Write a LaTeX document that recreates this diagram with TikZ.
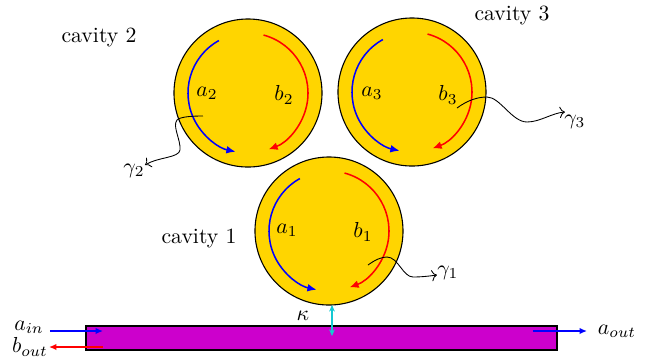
\documentclass[tikz,border=0pt]{standalone}
\usetikzlibrary{arrows.meta,calc}
\definecolor{cavfill}{RGB}{255,213,0}
\definecolor{wgfill}{RGB}{204,0,204}
\definecolor{kcyan}{RGB}{20,200,210}
\begin{document}
\begin{tikzpicture}[x=0.46pt,y=-0.46pt,
  cav/.style={circle,draw=black,fill=cavfill,line width=0.5pt,minimum size=68.1pt,inner sep=0pt},
  modea/.style={blue,line width=0.7pt,-{Latex[length=4.2pt,width=3.6pt]}},
  modeb/.style={red,line width=0.7pt,-{Latex[length=4.2pt,width=3.6pt]}},
  loss/.style={black,line width=0.4pt,->},
  port/.style={line width=0.7pt,-{Latex[length=3.4pt,width=3pt]}},
  lbl/.style={inner sep=1pt}]
\useasboundingbox (0,0) rectangle (657,358);
% waveguide
\node[draw=black,fill=wgfill,line width=0.5pt,minimum width=216.7pt,minimum height=11.04pt,inner sep=0pt] (wg) at (321.5,338) {};
% cavities
\node[cav] (c1) at (329,231) {};
\node[cav] (c2) at (248,93) {};
\node[cav] (c3) at (412,92) {};
% circulating modes
\foreach \c in {c1,c2,c3}{
  \draw[modea] ($(\c)+(241:60)$) arc[start angle=241,end angle=102,radius=60];
  \draw[modeb] ($(\c)+(-75:60)$) arc[start angle=-75,end angle=70,radius=60];
}
% mode labels
\node[lbl] (a1) at (287,230) {$a_1$};
\node[lbl] (b1) at (363,232) {$b_1$};
\node[lbl] (a2) at (207,93) {$a_2$};
\node[lbl] (b2) at (284,95) {$b_2$};
\node[lbl] (a3) at (372,93) {$a_3$};
\node[lbl] (b3) at (448,95) {$b_3$};
% cavity labels
\node[lbl] (k1) at (199,238) {cavity 1};
\node[lbl] (k2) at (99,37) {cavity 2};
\node[lbl] (k3) at (512,15) {cavity 3};
% losses
\coordinate (g1s) at (368,265);
\coordinate (g1e) at (437,275);
\node[lbl] (g1) at (448,273) {$\gamma_1$};
\draw[loss] (g1s) .. controls (375,260) and (381,257) .. (387,257)
  .. controls (398,257) and (403,277) .. (413,277)
  .. controls (422,277) and (430,276) .. (g1e);
\coordinate (g3s) at (457,108);
\coordinate (g3e) at (565,112);
\node[lbl] (g3) at (575,122) {$\gamma_3$};
\draw[loss] (g3s) .. controls (468,100) and (478,97) .. (487,97)
  .. controls (500,97) and (512,122) .. (527,122)
  .. controls (540,122) and (552,113) .. (g3e);
\coordinate (g2s) at (203,116);
\coordinate (g2e) at (145,165);
\node[lbl] (g2) at (134,171) {$\gamma_2$};
\draw[loss] (g2s) .. controls (190,116) and (180,117) .. (177,120)
  .. controls (172,126) and (181,140) .. (180,150)
  .. controls (179,158) and (158,157) .. (g2e);
% coupling
\coordinate (kt) at (332,305);
\coordinate (kb) at (332,336);
\draw[kcyan,line width=0.6pt,{Stealth[length=3pt,width=2.6pt]}-{Stealth[length=3pt,width=2.6pt]}] (kt) -- (kb);
\node[lbl] (kap) at (303,316) {$\kappa$};
% ports
\node[lbl] (ain) at (29,327) {$a_{in}$};
\node[lbl] (bout) at (30,347) {$b_{out}$};
\node[lbl] (aout) at (617,331) {$a_{out}$};
\coordinate (ain1) at (50,331);
\coordinate (ain2) at (103,331);
\coordinate (bo1) at (103,347);
\coordinate (bo2) at (49,347);
\coordinate (ao1) at (533,331);
\coordinate (ao2) at (587,331);
\draw[port,blue] (ain1) -- (ain2);
\draw[port,red] (bo1) -- (bo2);
\draw[port,blue] (ao1) -- (ao2);
\end{tikzpicture}
\end{document}
